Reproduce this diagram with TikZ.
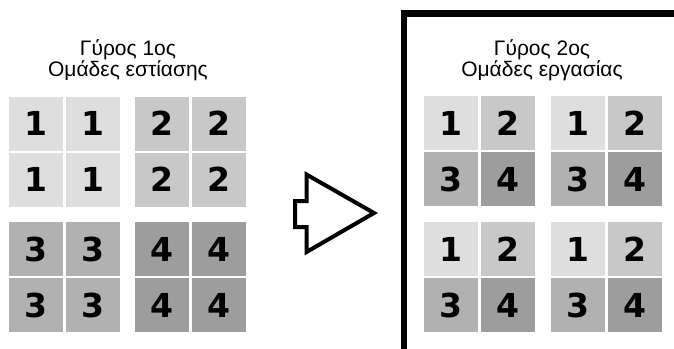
\documentclass[tikz,border=0pt]{standalone}
\usepackage{fontspec}
\setmainfont{Liberation Sans}
\newfontfamily\digitfont[BoldFont={DejaVu Sans Bold}]{DejaVu Sans}
\definecolor{cA}{HTML}{DEDEDF}
\definecolor{cB}{HTML}{C8C8C9}
\definecolor{cC}{HTML}{B1B1B2}
\definecolor{cD}{HTML}{9D9D9E}
\tikzset{
  cell/.style={minimum width=54pt, minimum height=54pt, inner sep=0pt, draw=none,
    font=\digitfont\bfseries\fontsize{33}{33}\selectfont},
  ttl/.style={anchor=base, inner sep=0pt, font=\fontsize{21}{24}\selectfont},
}
\begin{document}
\begin{tikzpicture}[x=1pt,y=-1pt]
\useasboundingbox[fill=white] (0,0) rectangle (674,348);
% titles
\node[ttl] (t1a) at (128,55) {Γύρος 1ος};
\node[ttl] (t1b) at (128,76) {Ομάδες εστίασης};
\node[ttl] (t2a) at (542,55) {Γύρος 2ος};
\node[ttl] (t2b) at (542,76) {Ομάδες εργασίας};
% left grid
\node[cell, fill=cA] (l11) at (36,123.5) {1};
\node[cell, fill=cA] (l12) at (92.5,123.5) {1};
\node[cell, fill=cA] (l21) at (36,179.5) {1};
\node[cell, fill=cA] (l22) at (92.5,179.5) {1};
\node[cell, fill=cB] (l13) at (162,123.5) {2};
\node[cell, fill=cB] (l14) at (218.5,123.5) {2};
\node[cell, fill=cB] (l23) at (162,179.5) {2};
\node[cell, fill=cB] (l24) at (218.5,179.5) {2};
\node[cell, fill=cC] (l31) at (36,249) {3};
\node[cell, fill=cC] (l32) at (92.5,249) {3};
\node[cell, fill=cC] (l41) at (36,305) {3};
\node[cell, fill=cC] (l42) at (92.5,305) {3};
\node[cell, fill=cD] (l33) at (162,249) {4};
\node[cell, fill=cD] (l34) at (218.5,249) {4};
\node[cell, fill=cD] (l43) at (162,305) {4};
\node[cell, fill=cD] (l44) at (218.5,305) {4};
% right grid
\foreach \gx/\gy/\nm in {451/123/a, 578/123/b, 451/249/c, 578/249/d}{
  \node[cell, fill=cA] (r\nm1) at (\gx,\gy) {1};
  \node[cell, fill=cB] (r\nm2) at (\gx+56.5,\gy) {2};
  \node[cell, fill=cC] (r\nm3) at (\gx,\gy+56) {3};
  \node[cell, fill=cD] (r\nm4) at (\gx+56.5,\gy+56) {4};
}
% arrow
\draw[line width=4pt, line join=miter, fill=white]
  (306.5,174.5) -- (306.5,201) -- (295,201) -- (295,227) -- (306.5,227)
  -- (306.5,252) -- (374,213) -- cycle;
% frame
\draw[line width=6.5pt, line join=miter] (404,360) -- (404,13.5) -- (690,13.5);
\end{tikzpicture}
\end{document}
